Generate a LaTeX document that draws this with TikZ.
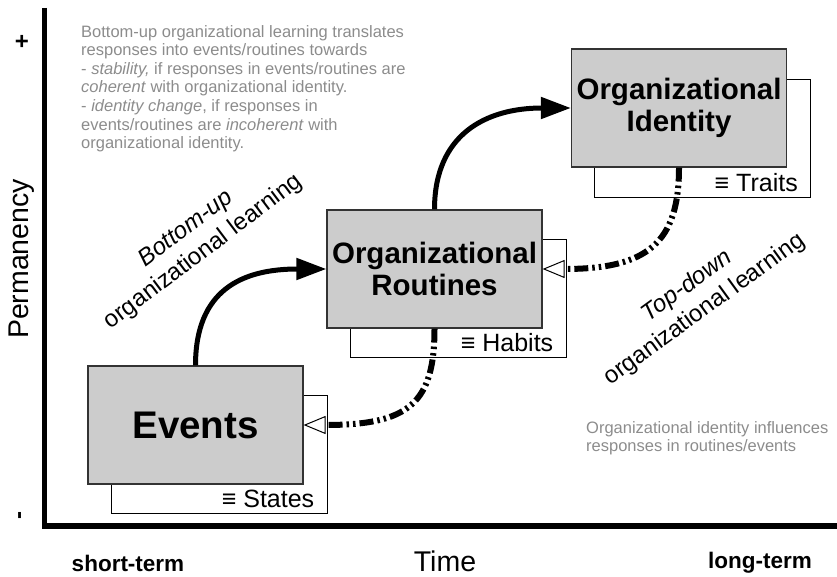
\documentclass[tikz,border=0pt]{standalone}
\usepackage{fontspec}
\setmainfont{Liberation Sans}
\usetikzlibrary{arrows.meta}
\definecolor{boxgray}{HTML}{CCCCCC}
\definecolor{boxline}{HTML}{333333}
\definecolor{txtgray}{HTML}{8C8C8C}
\begin{document}
\begin{tikzpicture}[x=1pt,y=-1pt,
  mainbox/.style={draw=boxline, line width=1.2pt, fill=boxgray, minimum width=215pt, minimum height=118pt, inner sep=0pt, align=center, font=\bfseries\fontsize{29.5}{32}\selectfont},
  backbox/.style={draw=black, line width=0.9pt, fill=white, minimum width=216pt, minimum height=118pt, inner sep=0pt},
  alias/.style={anchor=base east, inner sep=0pt, font=\fontsize{25}{28}\selectfont},
  bottomup/.style={line width=5pt, -{Triangle[length=30pt,width=21pt]}},
  topdown/.style={line width=6pt, dash pattern=on 14pt off 4pt on 2.5pt off 4pt on 2.5pt off 4pt, -{Triangle[fill=white,length=22pt,width=18pt,line width=1pt]}},
  note/.style={text=txtgray, align=left, inner sep=0pt, anchor=north west, font=\fontsize{16.5}{18.6}\selectfont},
  learn/.style={align=center, inner sep=0pt, font=\fontsize{24}{29}\selectfont},
  axislbl/.style={inner sep=0pt, font=\fontsize{28.5}{30}\selectfont},
  termlbl/.style={inner sep=0pt, font=\bfseries\fontsize{22.5}{24}\selectfont}
]
\useasboundingbox (0,0) rectangle (837,577);

% axes
\draw[line width=5.5pt] (44.5,8) -- (44.5,526) -- (837,526);
\node[inner sep=0pt, font=\bfseries\fontsize{24}{26}\selectfont] (plus) at (22,42) {+};
\node[inner sep=0pt, rotate=90, font=\bfseries\fontsize{24}{26}\selectfont] (minus) at (22,515) {-};
\node[axislbl, rotate=90] (perm) at (22,259) {Permanency};
\node[axislbl] (time) at (445,561) {Time};
\node[termlbl] (st) at (128,563) {short-term};
\node[termlbl] (lt) at (760,563) {long-term};

% back boxes
\node[backbox] (evb) at (219,454) {};
\node[backbox] (rtb) at (458,298) {};
\node[backbox] (idb) at (702.5,138) {};
\node[alias] (evl) at ([xshift=-13pt,yshift=6pt]evb.south east) {≡ States};
\node[alias] (rtl) at ([xshift=-13pt,yshift=6pt]rtb.south east) {≡ Habits};
\node[alias] (idl) at ([xshift=-13pt,yshift=6pt]idb.south east) {≡ Traits};

% main boxes
\node[mainbox, font=\bfseries\fontsize{38.5}{40}\selectfont] (ev) at (195.5,425) {Events};
\node[mainbox] (rt) at (434.5,269) {Organizational\\Routines};
\node[mainbox] (id) at (679,108) {Organizational\\Identity};

% connectors
\draw[bottomup] (ev.north) .. controls +(0,-75) and +(-85,0) .. (rt.west);
\draw[bottomup] (rt.north) .. controls +(0,-75) and +(-85,0) .. (id.west);
\draw[topdown] (id.south) .. controls +(0,75) and +(105,0) .. (rt.east);
\draw[topdown] (rt.south) .. controls +(0,75) and +(105,0) .. (ev.east);

% labels
\node[learn, rotate=37] (bul) at (195,241) {\textit{Bottom-up}\\organizational learning};
\node[learn, rotate=36] (tdl) at (696,298) {\textit{Top-down}\\organizational learning};

\node[note] (n1) at (81,25) {Bottom-up organizational learning translates\\
responses into events/routines towards\\
- \textit{stability,} if responses in events/routines are\\
\textit{coherent} with organizational identity.\\
- \textit{identity change}, if responses in\\
events/routines are \textit{incoherent} with\\
organizational identity.};
\node[note] (n2) at (586,421) {Organizational identity influences\\
responses in routines/events};
\end{tikzpicture}
\end{document}
